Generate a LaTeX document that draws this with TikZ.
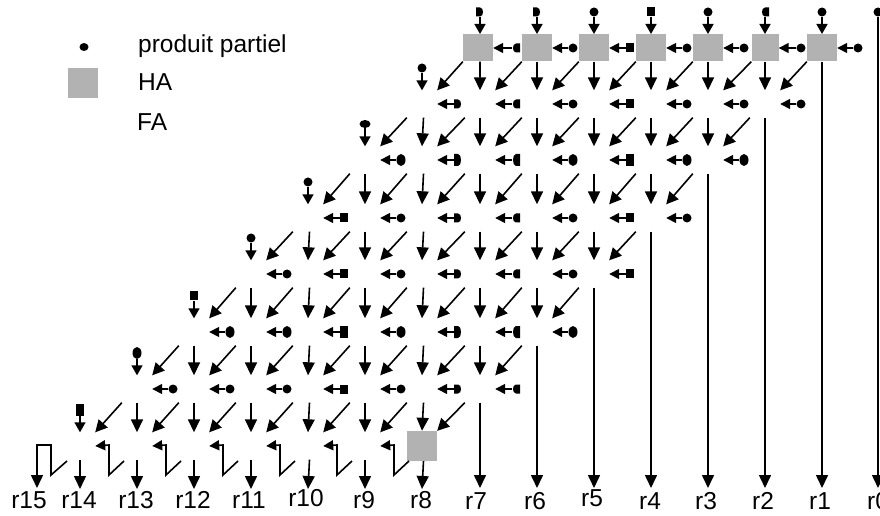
\documentclass[tikz,border=0pt]{standalone}
\usepackage{fontspec}
\setmainfont{Liberation Sans}
\usetikzlibrary{arrows.meta,shapes.geometric}
\definecolor{hagrey}{RGB}{178,178,178}
\tikzset{
  x=1bp,y=-1bp,
  cellfa/.style={rectangle,inner sep=0,minimum width=30bp,minimum height=27bp},
  cellha/.style={cellfa,fill=hagrey},
  lowha/.style={cellha,minimum height=30bp},
  narrowha/.style={cellha,minimum width=27bp},
  pc/.style={ellipse,fill=black,inner sep=0,minimum width=9bp,minimum height=9bp},
  pw/.style={ellipse,fill=black,inner sep=0,minimum width=11bp,minimum height=8bp},
  ps/.style={rectangle,fill=black,inner sep=0,minimum width=8bp,minimum height=9bp},
  pd/.style={rectangle,inner sep=0,minimum width=8bp,minimum height=9bp,path picture={
    \fill (path picture bounding box.south west) -- (path picture bounding box.south)
      .. controls (path picture bounding box.south east) and (path picture bounding box.north east) .. (path picture bounding box.north)
      -- (path picture bounding box.north west) -- cycle;}},
  pl/.style={rectangle,inner sep=0,minimum width=8bp,minimum height=9bp,path picture={
    \fill (path picture bounding box.south east) -- (path picture bounding box.south)
      .. controls (path picture bounding box.south west) and (path picture bounding box.north west) .. (path picture bounding box.north)
      -- (path picture bounding box.north east) -- cycle;}},
  tallp/.style={minimum height=12bp},
  flatp/.style={},
  varrow/.style={line width=1.6bp,-{Triangle[length=13bp,width=12bp]}},
  darrow/.style={line width=1.6bp,-{Triangle[length=12bp,width=12bp]}},
  harrow/.style={line width=1.6bp,-{Triangle[length=10bp,width=10bp]}},
  sarrow/.style={line width=1.6bp,-{Triangle[length=10bp,width=11bp]}},
  lab/.style={anchor=base,inner sep=0,font=\fontsize{24.5bp}{24.5bp}\selectfont},
  leg/.style={anchor=base west,inner sep=0,font=\fontsize{24.5bp}{24.5bp}\selectfont},
}
\begin{document}
\begin{tikzpicture}
\useasboundingbox (0,0) rectangle (880,516);
\def\colx{{80,137,194,251,308,365,422,480,537,594,651,708,765,822,878}}
\def\rowy{{48,104,160,218,274,332,389,446}}
\def\rightdot{{"pc","pc","pc","pc","ps","pc","pd","pl","pc","ps","pc","pc","pc","pc"}}
\def\topdot{{"ps","pc","ps","pc","pc","pw","pc","pd","pd","pc","ps","pc","pl","pc"}}
% cells and their dots
\foreach \rw in {0,...,7}{
  \pgfmathtruncatemacro\ja{7-\rw}
  \pgfmathtruncatemacro\jb{13-\rw}
  \pgfmathsetmacro\yy{\rowy[\rw]}
  \pgfmathsetmacro\tallstyle{(\rw==2||\rw==5)?"tallp":"flatp"}
  \foreach \cl in {\ja,...,\jb}{
    \pgfmathsetmacro\xx{\colx[\cl]}
    \ifnum\rw=0
      \ifnum\cl=7 \def\xb{478}\else\let\xb\xx\fi
      \ifnum\cl=12
        \node[narrowha] (c-\rw-\cl) at (\xb,\yy) {};
      \else
        \node[cellha] (c-\rw-\cl) at (\xb,\yy) {};
      \fi
    \else
      \ifnum\rw=7
        \ifnum\cl=6
          \node[lowha] (c-\rw-\cl) at (\xx,\yy) {};
        \else
          \node[cellfa] (c-\rw-\cl) at (\xx,\yy) {};
        \fi
      \else
        \node[cellfa] (c-\rw-\cl) at (\xx,\yy) {};
      \fi
    \fi
    \ifnum\rw<7
      \pgfmathsetmacro\sn{\rightdot[\cl]}
      \node[\sn,\tallstyle] (d-\rw-\cl) at (\xx+36,\yy) {};
      \draw[harrow] (d-\rw-\cl) -- (c-\rw-\cl.east);
    \fi
  }
}
% partial products entering from above
\foreach \cl in {7,...,13}{
  \pgfmathsetmacro\xx{\colx[\cl]}
  \pgfmathsetmacro\sn{\topdot[\cl]}
  \node[\sn] (u-0-\cl) at (\xx,12) {};
  \draw[sarrow] (u-0-\cl.south) -- (\xx,34);
}
\foreach \rw/\cl/\ex in {1/6/flatp,2/5/flatp,3/4/flatp,4/3/flatp,5/2/flatp,6/1/tallp,7/0/tallp}{
  \pgfmathsetmacro\xx{\colx[\cl]}
  \pgfmathsetmacro\yy{\rowy[\rw]-36}
  \pgfmathsetmacro\sn{\topdot[\cl]}
  \node[\sn,\ex] (u-\rw-\cl) at (\xx,\yy) {};
  \draw[sarrow] (u-\rw-\cl.south) -- (c-\rw-\cl.north);
}
% vertical and diagonal connectors
\foreach \rw in {1,...,7}{
  \pgfmathtruncatemacro\pr{\rw-1}
  \pgfmathtruncatemacro\ja{7-\rw}
  \pgfmathtruncatemacro\jv{8-\rw}
  \pgfmathtruncatemacro\jb{13-\rw}
  \foreach \cl in {\ja,...,\jb}{
    \pgfmathtruncatemacro\nx{\cl+1}
    \draw[darrow] (c-\pr-\nx.south west) -- (c-\rw-\cl.north east);
  }
  \foreach \cl in {\jv,...,\jb}{
    \pgfmathsetmacro\sh{(\cl==4||\cl==6)?1.5:((\cl==7&&\rw==1)?2:0)}
    \draw[varrow] ([xshift=\sh bp]c-\pr-\cl.south) -- (c-\rw-\cl.north);
  }
}
% result labels
\foreach \nm/\lx/\ly in {r15/29/508,r14/79/508,r13/136/508,r12/193/508,r11/249/508,r10/306/506,r9/364/508,r8/421/508,r7/476/509,r6/535/509,r5/592/506,r4/650/509,r3/706/509,r2/763/509,r1/820/509}{
  \node[lab] (\nm) at (\lx,\ly) {\nm};
}
\node[lab,anchor=base west] (r0) at (867,509) {r0};
% end points of the result arrows
\foreach \cl/\nm in {0/14,1/13,2/12,3/11,4/10,5/9,6/8}{
  \pgfmathsetmacro\xx{\colx[\cl]}
  \coordinate (e\nm) at (\xx,489);
  \pgfmathsetmacro\sh{(\cl==4||\cl==6)?1.5:0}
  \draw[varrow] ([xshift=\sh bp]c-7-\cl.south) -- (e\nm);
}
\foreach \rw/\cl/\nm in {6/7/7,5/8/6,4/9/5,3/10/4,2/11/3,1/12/2,0/13/1}{
  \pgfmathsetmacro\xx{\colx[\cl]}
  \coordinate (e\nm) at (\xx,488);
  \draw[varrow] (c-\rw-\cl.south) -- (e\nm);
}
\node[pc] (u-0-14) at (878,12) {};
\coordinate (e0) at (878,488);
\draw[varrow] (u-0-14.south) -- (e0);
% carries on the last row
\foreach \cl in {1,...,6}{
  \pgfmathtruncatemacro\lf{\cl-1}
  \pgfmathsetmacro\xx{\colx[\cl]}
  \coordinate (k\cl) at (\xx-13,461);
  \draw[harrow] (k\cl) -- (\xx-28,475) -- (\xx-28,445) -- (c-7-\lf.east);
}
\coordinate (k0) at (67,461);
\coordinate (e15) at (37,488);
\draw[varrow] (k0) -- (51,475) -- (51,445) -- (37,445) -- (e15);
% legend
\node[pw,minimum width=9bp,minimum height=8bp] (legdot) at (84,47) {};
\node[lowha] (legha) at (83,83) {};
\node[leg] (legtxt) at (138,53) {produit partiel};
\node[leg] (haTxt) at (138,91) {HA};
\node[leg] (faTxt) at (137,131) {FA};
\end{tikzpicture}
\end{document}
